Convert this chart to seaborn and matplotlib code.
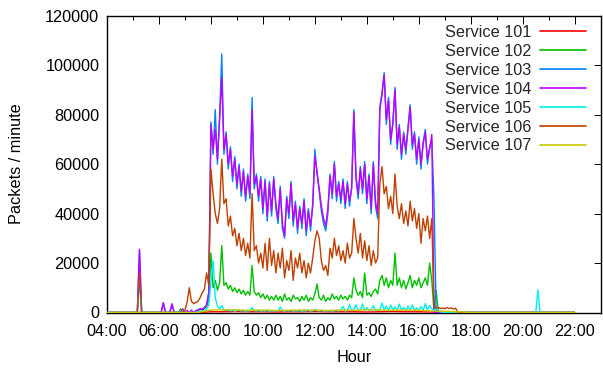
import numpy as np
import pandas as pd
import matplotlib
matplotlib.use("Agg")
import matplotlib.pyplot as plt
from matplotlib.ticker import FixedLocator, FuncFormatter
import seaborn as sns

# ---------------------------------------------------------------------------
# Traffic per service, packets per minute (values in thousands).
# Each service: a block of samples starting at block_start with a fixed step
# (minutes), plus a few isolated readings outside that block.  All other
# samples between DAY_START and DAY_END are zero.
# ---------------------------------------------------------------------------
DAY_START = "04:00"
DAY_END = "22:00"

services = ["Service 101", "Service 102", "Service 103", "Service 104",
            "Service 105", "Service 106", "Service 107"]
colors = ["#ff0000", "#00c000", "#0080ff", "#c000ff",
          "#00eeee", "#c04000", "#c8c800"]

# 5-minute samples, 07:30 .. 16:50 (one row per hour)
svc104_k = [
    1.0, 1.5, 1.2, 2.0, 3.0, 8.0, 76, 66, 74, 62, 78, 95,
    66, 72, 60, 66, 55, 62, 52, 59, 49, 57, 47, 55,
    48, 82, 52, 55, 47, 54, 42, 53, 39, 52, 41, 54,
    44, 38, 50, 36, 31, 46, 40, 52, 37, 44, 34, 42,
    36, 45, 33, 41, 35, 43, 63, 57, 50, 43, 38, 35,
    42, 55, 48, 60, 47, 52, 46, 53, 44, 52, 45, 50,
    81, 55, 48, 58, 50, 60, 46, 55, 42, 60, 45, 40,
    82, 88, 96, 78, 86, 70, 76, 90, 68, 75, 64, 72,
    66, 74, 83, 68, 72, 62, 70, 60, 68, 73, 62, 66,
    72, 0, 0, 0, 0,
]
svc104_extra = {"05:15": 25.5, "06:10": 4.0, "06:30": 3.5, "06:55": 1.5,
                "07:05": 0.8, "07:15": 1.0, "07:25": 0.8}

svc103_k = [
    1.0, 1.5, 1.2, 2.0, 3.0, 8.0, 77, 64, 82, 60, 79, 104.5,
    64, 73, 58, 67, 53, 63, 50, 60, 47, 58, 45, 56,
    46, 87, 50, 56, 45, 55, 40, 54, 37, 53, 39, 55,
    42, 36, 51, 34, 30, 47, 38, 53, 35, 45, 32, 43,
    34, 46, 31, 42, 33, 44, 66, 56, 49, 41, 36, 33,
    40, 56, 46, 61, 45, 53, 44, 54, 42, 53, 43, 51,
    82, 54, 46, 59, 48, 61, 44, 56, 40, 61, 43, 38,
    83, 89, 97, 76, 87, 68, 77, 91, 66, 76, 62, 73,
    64, 75, 84, 66, 73, 60, 71, 58, 69, 74, 60, 67,
    70, 46, 0.5, 0.3, 0,
]
svc103_extra = {"05:15": 25.0, "06:10": 3.8, "06:30": 3.3}

svc106_k = [
    4.5, 6.0, 8.0, 9.5, 16, 11, 58, 48, 40, 36, 42, 62,
    44, 46, 35, 39, 31, 34, 27, 32, 25, 30, 23, 28,
    22, 48, 25, 27, 20, 24, 18, 28, 17, 30, 19, 25,
    16, 24, 18, 26, 14, 21, 17, 25, 13, 22, 18, 24,
    16, 21, 14, 20, 16, 22, 29, 33, 30, 21, 17, 19,
    15, 26, 22, 30, 23, 27, 21, 25, 20, 28, 22, 24,
    38, 30, 24, 32, 22, 29, 21, 27, 19, 25, 20, 22,
    52, 59, 48, 51, 42, 47, 40, 56, 43, 38, 44, 36,
    41, 35, 45, 37, 42, 34, 40, 28, 38, 33, 39, 30,
    38, 2.2, 1.8, 2.0, 1.6,
]
svc106_extra = {"05:15": 15.7, "07:00": 1.0, "07:05": 4.2, "07:10": 10.0,
                "07:15": 4.5, "07:20": 3.6, "07:25": 4.0,
                "16:55": 1.8, "17:00": 1.5, "17:05": 2.0, "17:10": 1.6,
                "17:15": 1.9, "17:20": 1.4, "17:25": 1.7}

svc102_k = [
    0.8, 1.2, 1.0, 1.5, 2.5, 5.0, 24, 10, 13, 9, 12, 27,
    11, 12, 9.5, 11, 8.5, 10, 8, 9.5, 7.5, 9, 7, 8.5,
    7, 19, 8.5, 7, 8, 6, 7.5, 5.5, 7, 5, 6.5, 5,
    7, 5, 6.5, 4.5, 7.5, 5, 6, 4.5, 7, 5.5, 6, 4.5,
    6.5, 5, 7, 4.5, 6, 5, 7.5, 11.5, 6, 5, 7, 4.5,
    6, 5, 7.5, 5.5, 6.5, 5, 7, 5.5, 6.5, 5, 7, 6,
    14, 9, 7, 8.5, 6, 16, 7, 8, 6.5, 8.5, 9.5, 7.5,
    13, 15, 11, 14, 10, 13, 11, 24, 11, 14, 10, 13,
    9.5, 12, 15, 10, 13, 11, 14, 10, 12, 14, 11, 20,
    13, 0.5, 9, 0.3, 0.2,
]
svc102_extra = {"06:50": 1.5, "07:00": 0.5}

svc105_k = [
    0.3, 0.4, 0.5, 0.8, 1.5, 3.0, 12, 21, 6, 2.5, 1.5, 2.8,
    1.0, 0.8, 1.2, 0.6, 0.9, 0.5, 0.8, 1.0, 0.6, 0.8, 0.5, 0.7,
    0.6, 2.0, 0.8, 0.6, 0.9, 0.5, 0.7, 0.6, 0.9, 0.5, 0.7, 0.6,
    0.8, 0.6, 2.2, 0.7, 0.5, 0.8, 0.6, 0.9, 0.5, 0.7, 0.6, 0.8,
    0.5, 0.7, 0.6, 0.9, 0.5, 0.7, 1.2, 0.8, 0.6, 0.9, 0.5, 0.7,
    0.6, 0.8, 0.5, 0.7, 0.9, 0.6, 1.0, 2.5, 0.6, 0.8, 3.2, 0.7,
    1.5, 3.0, 0.8, 1.0, 3.5, 0.7, 2.0, 0.9, 1.2, 2.8, 0.8, 1.0,
    1.2, 3.8, 1.0, 2.5, 0.8, 3.0, 1.1, 2.2, 0.9, 3.4, 1.0, 2.0,
    0.9, 2.6, 1.0, 3.0, 0.8, 1.8, 1.0, 2.4, 0.9, 3.6, 1.0, 2.8,
    1.5, 1.0, 2.0, 0.5, 0.3,
]
svc105_extra = {"05:15": 12.5, "20:35": 9.2}

# 30-minute samples, 08:00 .. 17:30
svc101_k = [0.3, 0.3, 0.4, 0.3, 0.3, 0.2, 0.3, 0.3, 0.4, 0.3,
            0.3, 0.3, 0.2, 0.3, 0.4, 0.3, 0.3, 0.2, 0.1, 0.0]
svc107_k = [1.0, 1.1, 1.0, 0.9, 1.0, 0.8, 0.9, 1.0, 0.9, 0.8,
            1.0, 0.9, 1.1, 1.0, 0.9, 1.0, 0.9, 0.6, 0.5, 0.3]

series_spec = {
    "Service 101": ("08:00", 30, svc101_k, {}),
    "Service 102": ("07:30", 5, svc102_k, svc102_extra),
    "Service 103": ("07:30", 5, svc103_k, svc103_extra),
    "Service 104": ("07:30", 5, svc104_k, svc104_extra),
    "Service 105": ("07:30", 5, svc105_k, svc105_extra),
    "Service 106": ("07:30", 5, svc106_k, svc106_extra),
    "Service 107": ("08:00", 30, svc107_k, {}),
}


def to_minutes(hhmm):
    h, m = hhmm.split(":")
    return int(h) * 60 + int(m)


def build_series(block_start, step, block, extra):
    grid = np.arange(to_minutes(DAY_START), to_minutes(DAY_END) + 1, step)
    vals = np.zeros(len(grid))
    i0 = (to_minutes(block_start) - grid[0]) // step
    vals[i0:i0 + len(block)] = block
    for t, v in extra.items():
        vals[(to_minutes(t) - grid[0]) // step] = v
    return grid / 60.0, vals * 1000.0


frames = []
for name in services:
    hours, packets = build_series(*series_spec[name])
    frames.append(pd.DataFrame({"hour": hours, "packets": packets,
                                "service": name}))
df = pd.concat(frames, ignore_index=True)

# ---------------------------------------------------------------------------
sns.set_theme(style="white")
plt.rcParams["font.family"] = ["Liberation Sans", "DejaVu Sans"]
FS = 11.7

W, H = 603, 372
fig = plt.figure(figsize=(W / 100, H / 100), dpi=100)
x0, x1, y_top, y_bot = 107.0, 600.7, 15.7, 312.5
ax = fig.add_axes([x0 / W, 1 - y_bot / H, (x1 - x0) / W, (y_bot - y_top) / H])

sns.lineplot(data=df, x="hour", y="packets", hue="service",
             hue_order=services, palette=colors, linewidth=1.0,
             estimator=None, sort=False, ax=ax, zorder=3)

ax.set_xlim(4, 23)
ax.set_ylim(0, 120000)
ax.xaxis.set_major_locator(FixedLocator(np.arange(4, 23, 2)))
ax.xaxis.set_minor_locator(FixedLocator(np.arange(5, 23, 2)))
ax.xaxis.set_major_formatter(FuncFormatter(lambda v, p: f"{int(round(v)):02d}:00"))
ax.yaxis.set_major_locator(FixedLocator(np.arange(0, 120001, 20000)))
ax.yaxis.set_major_formatter(FuncFormatter(lambda v, p: f"{int(v)}"))

ax.tick_params(axis="both", which="both", direction="in", top=True,
               right=True, colors="black", labelsize=FS, width=0.7)
ax.tick_params(axis="both", which="major", length=5.4)
ax.tick_params(axis="x", which="minor", length=2.6)
ax.tick_params(axis="x", which="major", pad=8.5)
ax.tick_params(axis="y", which="major", pad=5.5)

for sp in ax.spines.values():
    sp.set_color("black")
    sp.set_linewidth(1.0)
    sp.set_visible(True)

ax.set_xlabel("Hour", fontsize=FS, color="black")
ax.set_ylabel("Packets / minute", fontsize=FS, color="black")
ax.xaxis.set_label_coords(0.5, -0.128)
ax.yaxis.set_label_coords(-0.168, 0.5)

sns.move_legend(ax, "upper right", title=None, frameon=False,
                markerfirst=False, fontsize=FS, handlelength=2.8,
                handletextpad=0.55, labelspacing=0.24, borderpad=0.0,
                borderaxespad=0.0,
                bbox_to_anchor=(585.5 / W, 1 - 25.0 / H),
                bbox_transform=fig.transFigure)
for line in ax.get_legend().get_lines():
    line.set_linewidth(1.2)

fig.savefig("out.png", dpi=100)
